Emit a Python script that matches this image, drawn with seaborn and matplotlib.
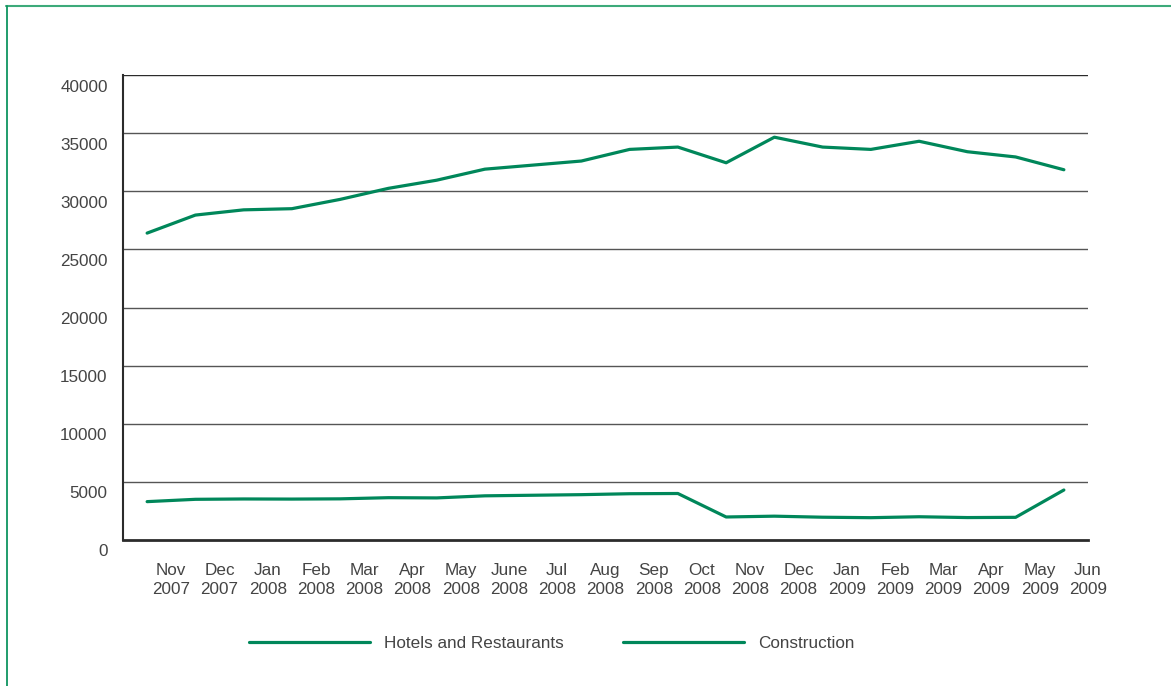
import matplotlib
matplotlib.use("Agg")
import matplotlib.pyplot as plt
import matplotlib.transforms as mtransforms
from matplotlib.lines import Line2D
import numpy as np
import pandas as pd
import seaborn as sns

# Monthly employment figures, Nov 2007 - Jun 2009
months = ["Nov\n2007", "Dec\n2007", "Jan\n2008", "Feb\n2008", "Mar\n2008",
          "Apr\n2008", "May\n2008", "June\n2008", "Jul\n2008", "Aug\n2008",
          "Sep\n2008", "Oct\n2008", "Nov\n2008", "Dec\n2008", "Jan\n2009",
          "Feb\n2009", "Mar\n2009", "Apr\n2009", "May\n2009", "Jun\n2009"]
hotels = [26400, 27950, 28400, 28500, 29300, 30250, 30950, 31900, 32250, 32600,
          33600, 33800, 32450, 34650, 33800, 33600, 34300, 33400, 32950, 31850]
construction = [3300, 3500, 3530, 3520, 3540, 3640, 3620, 3800, 3850, 3900,
                3980, 4000, 1980, 2050, 1960, 1920, 2000, 1930, 1950, 4300]
series_names = ["Hotels and Restaurants", "Construction"]
y_ticks = [0, 5000, 10000, 15000, 20000, 25000, 30000, 35000, 40000]

GREEN = "#00875A"
TEXT = "#444444"
AXIS = "#2b2b2b"
FS = 12.3

sns.set_style("white")
plt.rcParams["font.family"] = ["Liberation Sans", "DejaVu Sans"]
plt.rcParams["font.size"] = FS

n = len(months)
df = pd.DataFrame({
    "idx": list(range(n)) * 2,
    "value": hotels + construction,
    "series": [series_names[0]] * n + [series_names[1]] * n,
})

W, H = 1171, 686
fig = plt.figure(figsize=(W / 100, H / 100), dpi=100)
ax = fig.add_axes([123 / W, 1 - 540 / H, (1088 - 123) / W, (540 - 75) / H])

sns.lineplot(data=df, x="idx", y="value", hue="series",
             palette={series_names[0]: GREEN, series_names[1]: GREEN},
             linewidth=2.3, legend=False, ax=ax, sort=False)

ax.set_xlim(-0.5, n - 0.5)
ax.set_ylim(0, 40000)
ax.set_xlabel("")
ax.set_ylabel("")

# horizontal rules at every y tick
ax.set_yticks(y_ticks)
ax.set_yticklabels([str(v) for v in y_ticks], color=TEXT, fontsize=FS)
for v in y_ticks[1:]:
    ax.axhline(v, color="#555555" if v < 40000 else AXIS, linewidth=1.0, zorder=1)
ax.tick_params(axis="y", length=0, pad=11)
shift = mtransforms.ScaledTranslation(0, -0.105, fig.dpi_scale_trans)
for lab in ax.get_yticklabels():
    lab.set_transform(lab.get_transform() + shift)

# month ticks sit at the boundaries between data points
ax.set_xticks(np.arange(n) + 0.5)
ax.set_xticklabels(months, color=TEXT, fontsize=FS, linespacing=1.32)
ax.tick_params(axis="x", direction="in", length=7.5, width=1.5, color=AXIS, pad=16.5)

for side in ["top", "right"]:
    ax.spines[side].set_visible(False)
ax.spines["left"].set_color(AXIS)
ax.spines["left"].set_linewidth(1.5)
ax.spines["bottom"].set_color(AXIS)
ax.spines["bottom"].set_linewidth(2.0)

handles = [Line2D([0], [0], color=GREEN, linewidth=2.3) for _ in series_names]
leg = fig.legend(handles, series_names, loc="center", ncol=2,
                 bbox_to_anchor=(552 / W, 1 - 643 / H), frameon=False,
                 handlelength=7.1, handletextpad=0.82, columnspacing=3.45,
                 fontsize=FS)
for t in leg.get_texts():
    t.set_color(TEXT)

# frame lines along the top and left edges of the figure
fig.add_artist(Line2D([6 / W, 1], [1 - 6 / H, 1 - 6 / H], color="#3DAA7A",
                      linewidth=1.5, transform=fig.transFigure))
fig.add_artist(Line2D([6.5 / W, 6.5 / W], [0, 1 - 6 / H], color="#0E9460",
                      linewidth=1.3, transform=fig.transFigure))

fig.savefig("out.png", dpi=100)
